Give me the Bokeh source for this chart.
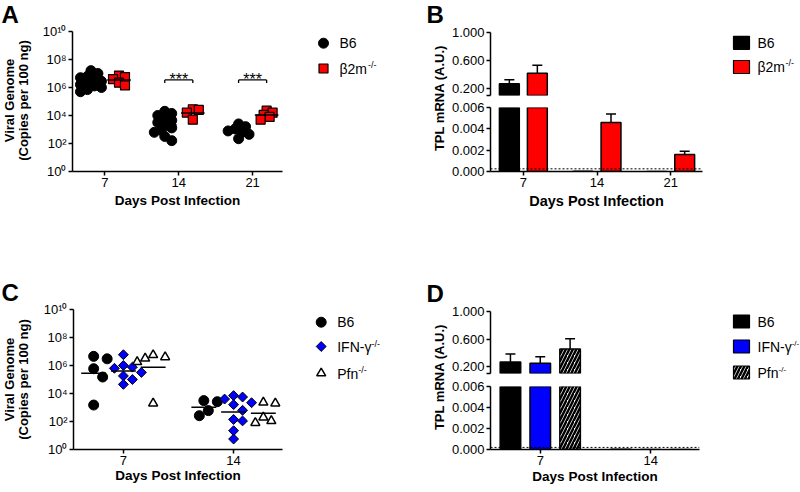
import numpy as np
from bokeh.plotting import figure
from bokeh.layouts import row, column
from bokeh.models import Range1d, FixedTicker, CustomJSTickFormatter, Span
from bokeh.core.properties import value
from bokeh.embed import file_html
from bokeh.resources import INLINE

FONT = "Liberation Sans"
RED = "#FF0000"
BLUE = "#0000FF"

# ---------------- data ----------------
days_A = ["7", "14", "21"]
a_b6 = [[1.6e7, 1.0e7, 6.3e6, 5.0e6, 3.5e6, 2.8e6, 2.2e6, 1.6e6, 1.3e6, 1.0e6, 7.1e5, 5.0e5],
        [2.0e4, 1.4e4, 1.0e4, 6.3e3, 4.5e3, 3.2e3, 2.0e3, 1.3e3, 8.9e2, 6.3e2, 3.2e2, 1.6e2],
        [2.5e3, 1.6e3, 1.1e3, 7.9e2, 6.3e2, 4.5e2, 2.2e2]]
a_b2m = [[7.1e6, 5.6e6, 4.0e6, 2.2e6, 1.4e6],
         [2.8e4, 2.5e4, 1.6e4, 5.0e3],
         [2.2e4, 1.6e4, 1.1e4, 7.9e3, 5.0e3]]
a_sig = ["", "***", "***"]
a_sig_level = 3.5e6
a_yticks = [1e0, 1e2, 1e4, 1e6, 1e8, 1e10]

days_B = ["7", "14", "21"]
b_b6_mean = [0.267, 0.00003, 0.0]
b_b6_sem = [0.057, 0.0, 0.0]
b_b2m_mean = [0.418, 0.0046, 0.0016]
b_b2m_sem = [0.115, 0.0008, 0.0003]
b_limit = 0.00025
b_top_ticks = [0.1, 0.2, 0.6, 1.0]
b_bot_ticks = [0.0, 0.002, 0.004, 0.006]

days_C = ["7", "14"]
c_b6 = [[3.0e6, 4.5e6, 5.9e5, 1.5e5, 1.5e3],
        [3.1e3, 2.6e3, 6.0e2, 2.6e2]]
c_ifng = [[5.9e6, 1.0e6, 7.6e5, 6.3e5, 3.2e5, 1.8e5, 1.0e5, 4.5e4],
          [7.1e3, 5.6e3, 4.0e3, 2.2e3, 1.6e3, 6.3e2, 1.4e2, 1.1e2, 2.2e1, 5.6e0]]
c_pfn = [[5.6e6, 4.0e6, 3.2e6, 1.8e6, 2.0e3],
         [2.3e3, 2.0e3, 2.0e2, 1.1e2, 8.0e1]]

days_D = ["7", "14"]
d_b6_mean = [0.268, 0.00003]
d_b6_sem = [0.115, 0.0]
d_ifng_mean = [0.249, 0.0]
d_ifng_sem = [0.095, 0.0]
d_pfn_mean = [0.455, 0.0]
d_pfn_sem = [0.148, 0.0]
d_limit = 0.0002


# ---------------- helpers ----------------
def log_fmt():
    return CustomJSTickFormatter(code="""
const sup = {"0":"\u2070","1":"\u00b9","2":"\u00b2","3":"\u00b3","4":"\u2074","5":"\u2075","6":"\u2076","7":"\u2077","8":"\u2078","9":"\u2079"};
const e = String(Math.round(Math.log10(tick)));
let s = "10";
for (const c of e) { s += sup[c]; }
return s;
""")


def day_fmt(labels):
    return CustomJSTickFormatter(args=dict(labels=labels), code="""
const i = Math.round(tick) - 1;
return (i >= 0 && i < labels.length) ? labels[i] : "";
""")


def style(p):
    p.grid.visible = False
    p.outline_line_color = None
    p.background_fill_color = "white"
    p.border_fill_color = "white"
    for ax in p.axis:
        ax.axis_line_width = 1.5
        ax.axis_line_color = "black"
        ax.major_tick_line_width = 1.5
        ax.major_tick_line_color = "black"
        ax.major_tick_out = 4
        ax.major_tick_in = 0
        ax.minor_tick_line_color = None
        ax.major_label_text_font = FONT
        ax.major_label_text_font_size = "13px"
        ax.major_label_text_color = "black"
        ax.major_label_standoff = 2
        ax.axis_label_text_font = FONT
        ax.axis_label_text_font_style = "bold"
        ax.axis_label_text_color = "black"
        ax.axis_label_text_font_size = "13.5px"


def panel_fig(w, h, xr, yr, borders, log=False, xaxis=True):
    l, r, t, b = borders
    p = figure(width=w, height=h, x_range=xr, y_range=yr,
               y_axis_type="log" if log else "linear",
               x_axis_location="below" if xaxis else None,
               output_backend="svg", toolbar_location=None, frame_align=False,
               min_border_left=l, min_border_right=r,
               min_border_top=t, min_border_bottom=b)
    style(p)
    return p


def pix_fig(w, h):
    p = figure(width=w, height=h, x_range=Range1d(0, w), y_range=Range1d(0, h),
               x_axis_location=None, y_axis_location=None,
               output_backend="svg", toolbar_location=None, frame_align=False,
               min_border_left=0, min_border_right=0, min_border_top=0, min_border_bottom=0)
    p.grid.visible = False
    p.outline_line_color = None
    p.background_fill_color = "white"
    p.border_fill_color = "white"
    return p


def ptext(p, h, x, yd, txt, size="14px", bold=False, align="left", baseline="middle", angle=0.0):
    p.text(x=[x], y=[h - yd], text=[txt], angle=angle,
           text_font=value(FONT), text_font_size=value(size),
           text_font_style=value("bold" if bold else "normal"),
           text_align=value(align), text_baseline=value(baseline), text_color="black")


def swarm(vals, center, ppu, ppd, min_d, step):
    ys = np.log10(np.asarray(vals, float)) * ppd
    order = np.argsort(-ys, kind="stable")
    px = np.zeros(len(ys))
    placed = []
    for i in order:
        k = 0
        while True:
            cand = ((k + 1) // 2) * step * (1 if k % 2 == 1 else -1)
            if all((cand - px[j]) ** 2 + (ys[i] - ys[j]) ** 2 >= min_d ** 2 for j in placed):
                break
            k += 1
        px[i] = cand
        placed.append(i)
    return center + px / ppu


def geo_mean(v):
    return 10 ** np.mean(np.log10(np.asarray(v, float)))


def errbars(p, xs, means, sems, cap):
    xs = np.asarray(xs, float)
    m = np.asarray(means, float)
    s = np.asarray(sems, float)
    k = s > 0
    top = m[k] + s[k]
    p.segment(x0=xs[k], y0=m[k], x1=xs[k], y1=top, line_color="black", line_width=1.5)
    p.segment(x0=xs[k] - cap, y0=top, x1=xs[k] + cap, y1=top, line_color="black", line_width=1.5)


def broken_bars(pt, pb, xs, means, width, brk, **kw):
    xs = np.asarray(xs, float)
    m = np.asarray(means, float)
    k = m > brk
    pt.vbar(x=xs[k], width=width, top=m[k], bottom=brk, **kw)
    pb.vbar(x=xs, width=width, top=m, bottom=0, **kw)


def ylabel_strip(p, h, yc, lines):
    # two-line rotated axis title
    for x, t in zip([9, 23], lines):
        ptext(p, h, x, yc, t, size="13px", bold=True, align="center", angle=np.pi / 2)


# ================= top row =================
# ---- panel A ----
labA = pix_fig(32, 250)
ptext(labA, 250, 1, 0, "A", size="24px", bold=True, baseline="top")
ylabel_strip(labA, 250, 100, ["Viral Genome", "(Copies per 100 ng)"])

xa = np.arange(1, len(days_A) + 1, dtype=float)
OFF_A = 0.19
pA = panel_fig(268, 250, Range1d(0.56, 3.405), Range1d(1, 1e10), (40, 18, 31, 79), log=True)
pA.yaxis.ticker = FixedTicker(ticks=a_yticks, minor_ticks=[])
pA.yaxis.formatter = log_fmt()
pA.xaxis.ticker = FixedTicker(ticks=list(xa), minor_ticks=[])
pA.xaxis.formatter = day_fmt(days_A)
pA.xaxis.axis_label = "Days Post Infection"
pA.xaxis.axis_label_standoff = 3

my, mx0, mx1 = [], [], []
for i in range(len(days_A)):
    c0, c1 = xa[i] - OFF_A, xa[i] + OFF_A
    pA.scatter(swarm(a_b6[i], c0, 74, 14, 6, 3.5), a_b6[i], marker="circle", size=10,
               fill_color="black", line_color="black")
    pA.scatter(swarm(a_b2m[i], c1, 74, 14, 5, 3), a_b2m[i], marker="square", size=9,
               fill_color=RED, line_color="black", line_width=1.2)
    for c, v in ((c0, a_b6[i]), (c1, a_b2m[i])):
        g = geo_mean(v)
        mx0.append(c - 0.16); mx1.append(c + 0.16); my.append(g)
pA.segment(x0=mx0, y0=my, x1=mx1, y1=my, line_color="black", line_width=1.5)

for i, s in enumerate(a_sig):
    if s:
        c0, c1 = xa[i] - OFF_A, xa[i] + OFF_A
        ytk = a_sig_level / 10 ** 0.22
        pA.segment(x0=[c0, c0, c1], y0=[a_sig_level] * 3,
                   x1=[c1, c0, c1], y1=[a_sig_level, ytk, ytk], line_color="black", line_width=1.3)
        pA.text(x=[xa[i]], y=[a_sig_level * 10 ** 0.05], text=[s], text_font=value(FONT),
                text_font_size=value("16px"), text_align=value("center"),
                text_baseline=value("alphabetic"), text_color="black")

legA = pix_fig(124, 250)
legA.scatter([23], [250 - 42.7], marker="circle", size=10, fill_color="black", line_color="black")
legA.scatter([23], [250 - 68], marker="square", size=9, fill_color=RED, line_color="black", line_width=1.2)
ptext(legA, 250, 39, 42.7, "B6")
ptext(legA, 250, 39, 68.5, "\u03b22m")
ptext(legA, 250, 67.5, 64.5, "-/-", size="9px")

# ---- panel B ----
labB = pix_fig(24, 250)
ptext(labB, 250, 2, 0, "B", size="24px", bold=True, baseline="top")
ptext(labB, 250, 15, 97.5, "TPL mRNA (A.U.)", size="13px", bold=True, align="center",
      angle=np.pi / 2)

xb = np.arange(1, len(days_B) + 1, dtype=float)
OFF_B = 0.19
xrB = Range1d(0.554, 3.432)
pBt = panel_fig(264, 101, xrB, Range1d(b_top_ticks[0], b_top_ticks[-1]), (41, 10, 32, 6), xaxis=False)
pBb = panel_fig(264, 149, xrB, Range1d(b_bot_ticks[0], b_bot_ticks[-1]), (41, 10, 6, 79))
pBt.yaxis.ticker = FixedTicker(ticks=b_top_ticks, minor_ticks=[])
pBt.yaxis.formatter = CustomJSTickFormatter(code="return tick < 0.15 ? '' : tick.toFixed(3);")
pBb.yaxis.ticker = FixedTicker(ticks=b_bot_ticks, minor_ticks=[])
pBb.yaxis.formatter = CustomJSTickFormatter(code="return tick.toFixed(3);")
pBb.xaxis.ticker = FixedTicker(ticks=list(xb), minor_ticks=[])
pBb.xaxis.formatter = day_fmt(days_B)
pBb.xaxis.axis_label = "Days Post Infection"
pBb.xaxis.axis_label_text_font_size = "14.5px"
pBb.xaxis.axis_label_standoff = 3
brkB = b_top_ticks[0]
broken_bars(pBt, pBb, xb - OFF_B, b_b6_mean, 0.27, brkB,
            fill_color="black", line_color="black", line_width=1.5)
broken_bars(pBt, pBb, xb + OFF_B, b_b2m_mean, 0.27, brkB,
            fill_color=RED, line_color="black", line_width=1.5)
for p in (pBt, pBb):
    errbars(p, xb - OFF_B, b_b6_mean, b_b6_sem, 0.068)
    errbars(p, xb + OFF_B, b_b2m_mean, b_b2m_sem, 0.068)
pBb.add_layout(Span(location=b_limit, dimension="width", line_color="black",
                    line_width=1, line_dash="2 2"))

legB = pix_fig(88, 250)
legB.rect(x=[29, 29], y=[250 - 42.3, 250 - 66.5], width=16, height=13,
          fill_color=["black", RED], line_color="black", line_width=1.2)
ptext(legB, 250, 45, 42.3, "B6")
ptext(legB, 250, 45, 66.5, "\u03b22m")
ptext(legB, 250, 73, 62.5, "-/-", size="9px")

# ================= bottom row =================
# ---- panel C ----
labC = pix_fig(32, 242)
ptext(labC, 242, 1, 28, "C", size="24px", bold=True, baseline="top")
ylabel_strip(labC, 242, 129, ["Viral Genome", "(Copies per 100 ng)"])

xc = np.arange(1, len(days_C) + 1, dtype=float)
OFF_C = 0.27
pC = panel_fig(268, 242, Range1d(0.547, 2.444), Range1d(1, 1e10), (41, 18, 59, 43), log=True)
pC.yaxis.ticker = FixedTicker(ticks=a_yticks, minor_ticks=[])
pC.yaxis.formatter = log_fmt()
pC.xaxis.ticker = FixedTicker(ticks=list(xc), minor_ticks=[])
pC.xaxis.formatter = day_fmt(days_C)
pC.xaxis.axis_label = "Days Post Infection"
pC.xaxis.axis_label_standoff = 0

my, mx0, mx1 = [], [], []
for i in range(len(days_C)):
    cb, ci, cp = xc[i] - OFF_C, xc[i], xc[i] + OFF_C
    pC.scatter(swarm(c_b6[i], cb, 110.3, 13.94, 10, 4.5), c_b6[i], marker="circle", size=10,
               fill_color="black", line_color="black")
    pC.scatter(swarm(c_ifng[i], ci, 110.3, 13.94, 8, 4.5), c_ifng[i], marker="square",
               angle=np.pi / 4, size=7, fill_color=BLUE, line_color="black", line_width=1)
    pC.scatter(swarm(c_pfn[i], cp, 110.3, 13.94, 8.5, 4), c_pfn[i], marker="triangle", size=9,
               fill_color="white", line_color="black", line_width=1.5)
    for c, v in ((cb, c_b6[i]), (ci, c_ifng[i]), (cp, c_pfn[i])):
        g = geo_mean(v)
        mx0.append(c - 0.113); mx1.append(c + 0.113); my.append(g)
pC.segment(x0=mx0, y0=my, x1=mx1, y1=my, line_color="black", line_width=1.5)

legC = pix_fig(124, 242)
legC.scatter([20.7], [242 - 71.7], marker="circle", size=10, fill_color="black", line_color="black")
legC.scatter([20.7], [242 - 96], marker="square", angle=np.pi / 4, size=7, fill_color=BLUE,
             line_color="black", line_width=1)
legC.scatter([20.7], [242 - 122.7], marker="triangle", size=9, fill_color="white",
             line_color="black", line_width=1.5)
ptext(legC, 242, 36.7, 71.5, "B6")
ptext(legC, 242, 36.7, 96.5, "IFN-\u03b3")
ptext(legC, 242, 70.9, 93, "-/-", size="9px")
ptext(legC, 242, 36.7, 123, "Pfn")
ptext(legC, 242, 57.7, 119.5, "-/-", size="9px")

# ---- panel D ----
labD = pix_fig(24, 242)
ptext(labD, 242, 2, 29, "D", size="24px", bold=True, baseline="top")
ptext(labD, 242, 15, 126.5, "TPL mRNA (A.U.)", size="13px", bold=True, align="center",
      angle=np.pi / 2)

xd = np.arange(1, len(days_D) + 1, dtype=float)
OFF_D = 0.27
xrD = Range1d(0.5495, 2.4414)
pDt = panel_fig(264, 129, xrD, Range1d(b_top_ticks[0], b_top_ticks[-1]), (41, 13, 61, 6), xaxis=False)
pDb = panel_fig(264, 113, xrD, Range1d(b_bot_ticks[0], b_bot_ticks[-1]), (41, 13, 7, 43))
pDt.yaxis.ticker = FixedTicker(ticks=b_top_ticks, minor_ticks=[])
pDt.yaxis.formatter = CustomJSTickFormatter(code="return tick < 0.15 ? '' : tick.toFixed(3);")
pDb.yaxis.ticker = FixedTicker(ticks=b_bot_ticks, minor_ticks=[])
pDb.yaxis.formatter = CustomJSTickFormatter(code="return tick.toFixed(3);")
pDb.xaxis.ticker = FixedTicker(ticks=list(xd), minor_ticks=[])
pDb.xaxis.formatter = day_fmt(days_D)
pDb.xaxis.axis_label = "Days Post Infection"
pDb.xaxis.axis_label_standoff = 1
brkD = b_top_ticks[0]
broken_bars(pDt, pDb, xd - OFF_D, d_b6_mean, 0.186, brkD,
            fill_color="black", line_color="black", line_width=1.5)
broken_bars(pDt, pDb, xd, d_ifng_mean, 0.186, brkD,
            fill_color=BLUE, line_color="black", line_width=1.5)
broken_bars(pDt, pDb, xd + OFF_D, d_pfn_mean, 0.186, brkD,
            fill_color="white", hatch_pattern=value("/"), hatch_color="black",
            hatch_weight=2.5, hatch_scale=7, line_color="black", line_width=1.5)
for p in (pDt, pDb):
    errbars(p, xd - OFF_D, d_b6_mean, d_b6_sem, 0.045)
    errbars(p, xd, d_ifng_mean, d_ifng_sem, 0.045)
    errbars(p, xd + OFF_D, d_pfn_mean, d_pfn_sem, 0.045)
pDb.add_layout(Span(location=d_limit, dimension="width", line_color="black",
                    line_width=1, line_dash="2 2"))

legD = pix_fig(88, 242)
legD.rect(x=[29, 29], y=[242 - 71, 242 - 96], width=16, height=13,
          fill_color=["black", BLUE], line_color="black", line_width=1.2)
legD.rect(x=[29], y=[242 - 122], width=16, height=13, fill_color="white",
          hatch_pattern=value("/"), hatch_color="black", hatch_weight=2.5, hatch_scale=7,
          line_color="black", line_width=1.2)
ptext(legD, 242, 45, 71, "B6")
ptext(legD, 242, 45, 96.5, "IFN-\u03b3")
ptext(legD, 242, 79.2, 93, "-/-", size="8px")
ptext(legD, 242, 45, 122.5, "Pfn")
ptext(legD, 242, 66, 119, "-/-", size="8px")

# ---------------- layout ----------------
top = row(labA, pA, legA, labB, column(pBt, pBb), legB)
bottom = row(labC, pC, legC, labD, column(pDt, pDb), legD)
layout = column(top, bottom)

open("out.html", "w").write(file_html(layout, INLINE))
